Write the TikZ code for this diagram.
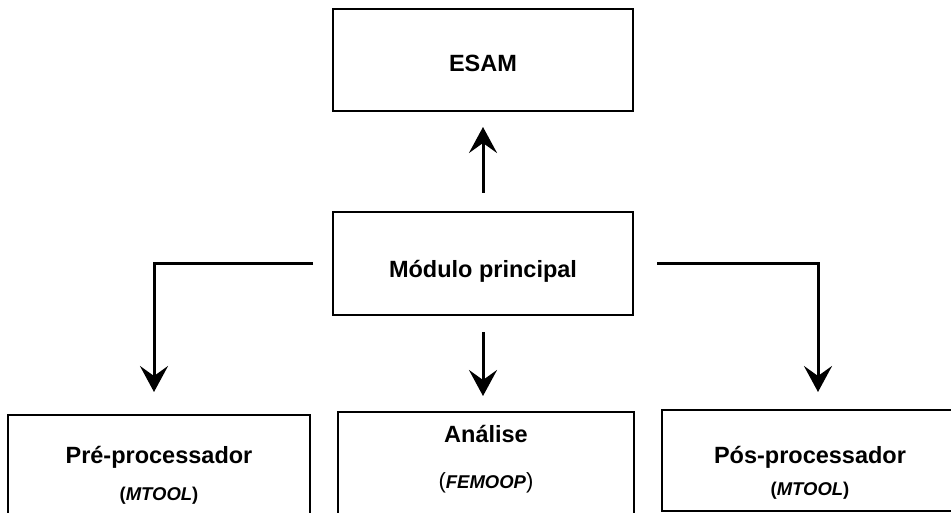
\documentclass[tikz,border=0pt]{standalone}
\usepackage{fontspec}
\setmainfont{Liberation Sans}
\usetikzlibrary{arrows.meta, positioning}

\begin{document}
\begin{tikzpicture}[
  x=1pt, y=-1pt,
  block/.style     = {draw, line width=2pt, outer sep=0pt, minimum width=300pt},
  mainblock/.style = {block, minimum height=103pt, text depth=0pt,
                      font=\fontsize{23.5}{28}\selectfont\bfseries},
  title/.style     = {anchor=base, font=\fontsize{23.5}{28}\selectfont\bfseries},
  sub/.style       = {anchor=base, font=\fontsize{18.5}{22}\selectfont\bfseries},
  arrow/.style     = {line width=3pt, -{Stealth[length=26pt, width=28pt, inset=10pt]}}
]

  \useasboundingbox (0,0) rectangle (951,513);
  \clip (0,0) rectangle (951,513);

  % main module
  \node[mainblock, text height=27pt] (modp) at (483,263.5) {Módulo principal};

  % ESAM above main module
  \node[mainblock, text height=24pt, minimum height=102pt, above=101pt of modp] (esam) {ESAM};

  % the three blocks at the bottom
  \node[block, minimum width=302pt, minimum height=130pt, anchor=north] (pre) at (159,415) {};
  \node[block, minimum width=296pt, minimum height=130pt, anchor=north] (ana) at (486,412) {};
  \node[block, minimum width=296pt, minimum height=101pt, anchor=north] (pos) at (810,410) {};

  % texts of the bottom blocks
  \node[title] (pretitle) at ([yshift=-48pt]pre.north) {Pré-processador};
  \node[sub]   (presub)   at ([yshift=-85pt]pre.north) {(\textit{MTOOL})};
  \node[title] (anatitle) at ([yshift=-30pt]ana.north) {Análise};
  \node[sub]   (anasub)   at ([yshift=-76pt]ana.north)
    {\textmd{\fontsize{22}{26}\selectfont(}\textit{FEMOOP}\textmd{\fontsize{22}{26}\selectfont)}};
  \node[title] (postitle) at ([yshift=-53pt]pos.north) {Pós-processador};
  \node[sub]   (possub)   at ([yshift=-85pt]pos.north) {(\textit{MTOOL})};

  % free ends of the branches
  \coordinate[left=20pt of modp]  (lstart);
  \coordinate[right=24pt of modp] (rstart);
  \coordinate[below=17pt of modp] (mstart);

  % main module up to ESAM
  \draw[arrow, shorten <=19pt, shorten >=16pt] (modp.north) -- (esam.south);

  % branches down to the bottom blocks
  \draw[arrow] (lstart) -| ([xshift=-5pt, yshift=23pt]pre.north);
  \draw[arrow, shorten >=16pt] (mstart) -- (mstart |- ana.north);
  \draw[arrow] (rstart) -| ([xshift=8pt, yshift=18pt]pos.north);

\end{tikzpicture}
\end{document}
